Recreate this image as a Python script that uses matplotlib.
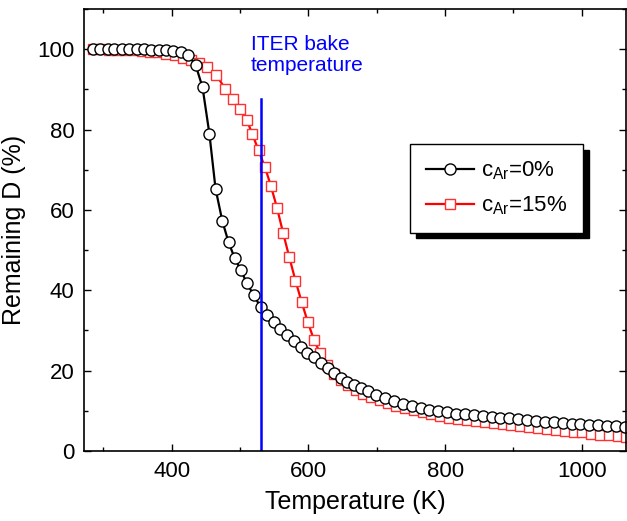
import matplotlib
matplotlib.use('Agg')
import matplotlib.pyplot as plt
from matplotlib.ticker import MultipleLocator

plt.rcParams['font.family'] = ['Liberation Sans', 'DejaVu Sans']
plt.rcParams['mathtext.fontset'] = 'custom'
plt.rcParams['mathtext.rm'] = 'Liberation Sans'
plt.rcParams['mathtext.it'] = 'Liberation Sans:italic'

# c_Ar = 0 %
t_ar0 = [284, 295, 306, 316, 327, 338, 349, 359, 370, 381, 392, 402, 413, 424, 435,
         445, 455, 464, 474, 483, 492, 501, 510, 520, 530, 540, 550, 559, 569, 579,
         589, 598, 608, 618, 628, 638, 647, 657, 667, 677, 687,
         699, 712, 725, 738, 751, 764, 777, 790, 803, 816, 829, 842, 855, 868, 881,
         894, 907, 920, 933, 946, 959, 972, 985, 998, 1011, 1024, 1037, 1050, 1063]
d_ar0 = [100, 100, 100, 100, 100, 100, 100, 100, 99.9, 99.9, 99.8, 99.6, 99.4, 98.6, 96.0,
         90.5, 79.0, 65.3, 57.2, 52.0, 48.0, 45.0, 41.7, 38.8, 35.8, 33.8, 32.0, 30.4, 28.8, 27.3,
         25.8, 24.5, 23.3, 22.0, 20.7, 19.4, 18.2, 17.2, 16.4, 15.6, 14.9,
         14.0, 13.2, 12.4, 11.8, 11.2, 10.7, 10.3, 9.9, 9.6, 9.3, 9.1, 8.9, 8.7, 8.5, 8.3,
         8.1, 7.9, 7.7, 7.5, 7.3, 7.2, 7.0, 6.8, 6.7, 6.5, 6.4, 6.2, 6.1, 5.9]

# c_Ar = 15 %
t_ar15 = [284, 296, 308, 320, 332, 344, 356, 368, 380, 392, 404, 416, 428, 440, 452,
          465, 478, 490, 500, 510, 518, 527, 536, 545, 554, 563, 572, 581, 590, 599,
          608, 617, 627, 637, 647, 658, 669, 680, 692, 704, 716, 728, 741, 754, 767,
          780, 793, 806, 819, 832, 845, 858, 871, 884, 897, 910, 923, 936, 949, 962,
          975, 988, 1001, 1014, 1027, 1040, 1053, 1064]
d_ar15 = [100, 100, 99.9, 99.9, 99.8, 99.7, 99.6, 99.4, 99.2, 98.9, 98.5, 97.9, 97.2, 96.5, 95.5,
          93.6, 90.2, 87.6, 85.2, 82.3, 78.8, 74.8, 70.8, 66.0, 60.5, 54.2, 48.2, 42.4, 37.1, 32.1,
          27.7, 24.3, 21.4, 19.2, 17.6, 16.3, 15.2, 14.3, 13.4, 12.6, 11.9, 11.3, 10.7, 10.1, 9.6,
          9.1, 8.7, 8.3, 8.0, 7.7, 7.4, 7.1, 6.9, 6.6, 6.4, 6.1, 5.9, 5.7, 5.4, 5.2,
          5.0, 4.8, 4.6, 4.3, 4.1, 3.9, 3.7, 3.5]

iter_bake = 531
iter_top = 87.6

fig = plt.figure(figsize=(6.27, 5.21), dpi=100)
ax = fig.add_axes([0.1345, 0.1344, 0.8642, 0.8483])

ax.plot(t_ar15, d_ar15, '-s', color='red', lw=1.6, ms=7, mfc='white',
        mec='#ff3030', mew=1, label=r'c$_{\mathrm{Ar}}$=15%')
ax.plot(t_ar0, d_ar0, '-o', color='black', lw=1.6, ms=8, mfc='white',
        mec='black', mew=1, label=r'c$_{\mathrm{Ar}}$=0%')
ax.plot([iter_bake, iter_bake], [0, iter_top], color='blue', lw=1.8)
ax.text(516, 103.5, 'ITER bake\ntemperature', color='blue', fontsize=15,
        ha='left', va='top', linespacing=1.15)

ax.set_xlim(272, 1065)
ax.set_ylim(0, 110)
ax.xaxis.set_major_locator(MultipleLocator(200))
ax.xaxis.set_minor_locator(MultipleLocator(100))
ax.yaxis.set_major_locator(MultipleLocator(20))
ax.yaxis.set_minor_locator(MultipleLocator(10))
ax.tick_params(which='both', direction='in', top=True, right=True, width=1)
ax.tick_params(which='major', length=5, labelsize=16, pad=7)
ax.tick_params(which='minor', length=3)
for s in ax.spines.values():
    s.set_linewidth(1.2)

ax.set_xlabel('Temperature (K)', fontsize=18, labelpad=6)
ax.set_ylabel('Remaining D (%)', fontsize=18, labelpad=8)

h, l = ax.get_legend_handles_labels()
leg = ax.legend(h[::-1], l[::-1], loc='upper left', bbox_to_anchor=(0.601, 0.6946),
                borderaxespad=0, fontsize=16, fancybox=False, edgecolor='black',
                framealpha=1, handlelength=2.2, handletextpad=0.3, labelspacing=0.55,
                borderpad=0.7, shadow={'ox': 4.3, 'oy': -4.3, 'color': 'black', 'alpha': 1})
leg.get_frame().set_linewidth(1)

fig.savefig('out.png', dpi=100)
